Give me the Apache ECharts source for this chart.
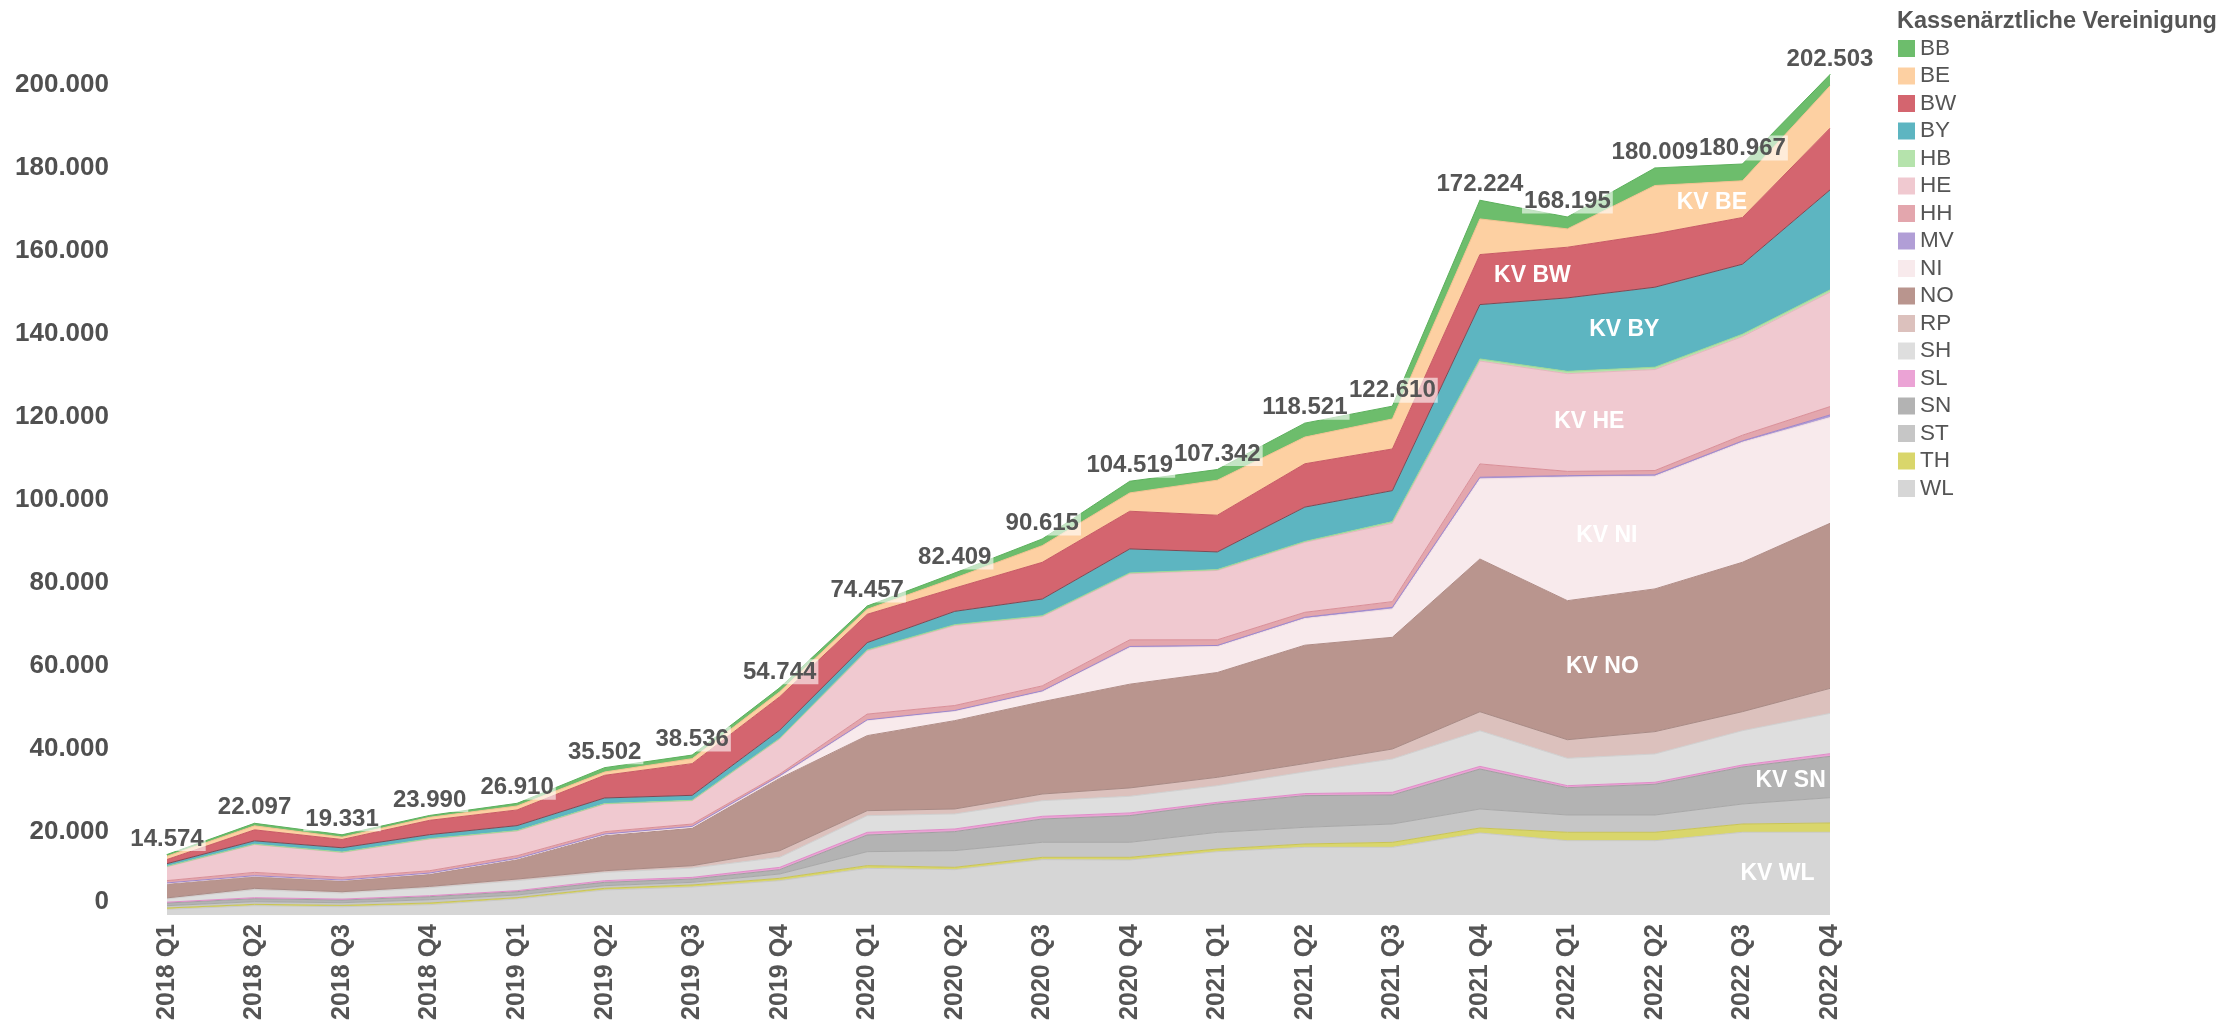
<!DOCTYPE html>
<html><head><meta charset="utf-8">
<script src="https://cdn.jsdelivr.net/npm/echarts@6/dist/echarts.min.js"></script>
<style>html,body{margin:0;padding:0;background:#fff}#c{width:2218px;height:1028px}</style>
</head><body><div id="c"></div>
<script>
const quarters = ['2018 Q1','2018 Q2','2018 Q3','2018 Q4','2019 Q1','2019 Q2','2019 Q3','2019 Q4',
  '2020 Q1','2020 Q2','2020 Q3','2020 Q4','2021 Q1','2021 Q2','2021 Q3','2021 Q4',
  '2022 Q1','2022 Q2','2022 Q3','2022 Q4'];

const WL = [1370, 2250, 2000, 2490, 3860, 6030, 6750, 8280, 11250, 10930, 13340, 13260, 15260, 16310, 16310, 19760, 17910, 17910, 19930, 19930];
const TH = [320, 320, 320, 400, 320, 400, 480, 560, 640, 560, 560, 640, 640, 800, 1200, 1200, 2020, 2020, 2000, 2240];
const ST = [560, 640, 640, 800, 640, 640, 640, 1040, 3370, 4020, 3620, 3620, 4020, 4020, 4420, 4580, 4170, 4170, 4820, 6100];
const SN = [640, 720, 640, 720, 800, 800, 800, 1040, 4020, 4580, 5620, 6430, 6830, 7630, 6990, 9640, 6580, 7400, 8920, 9950];
const SL = [200, 240, 240, 240, 240, 400, 400, 560, 640, 640, 640, 640, 400, 500, 640, 640, 480, 480, 480, 650];
const SH = [800, 1930, 1450, 1930, 2410, 2000, 2250, 2410, 4020, 3620, 3770, 4020, 4020, 5220, 8030, 8580, 6600, 6830, 8270, 9710];
const RP = [240, 320, 320, 320, 400, 400, 560, 1600, 1200, 1200, 1600, 2010, 2010, 2010, 2410, 4580, 4480, 5380, 4580, 6030];
const NO = [3300, 2810, 2570, 2890, 4660, 8440, 9000, 17430, 18080, 21280, 22250, 25000, 25250, 28520, 26910, 36800, 33500, 34390, 36000, 39770];
const NI = [200, 150, 150, 200, 200, 250, 300, 400, 3620, 2250, 2410, 8840, 6270, 6430, 6830, 19300, 29800, 27160, 28920, 25470];
const MV = [100, 90, 90, 120, 120, 150, 180, 240, 200, 200, 200, 250, 250, 300, 400, 400, 320, 320, 320, 640];
const HH = [560, 800, 640, 560, 640, 560, 560, 400, 1370, 1200, 1200, 1600, 1370, 1200, 1370, 3210, 1040, 1040, 1370, 2020];
const HE = [3340, 6700, 6000, 7630, 5950, 6670, 5620, 8440, 15250, 19280, 16710, 15920, 16710, 16870, 18880, 24800, 23540, 24340, 23780, 27550];
const HB = [100, 100, 100, 100, 100, 100, 100, 150, 200, 200, 200, 200, 200, 200, 400, 500, 560, 560, 560, 560];
const BY = [640, 800, 1040, 960, 1200, 1360, 1200, 2000, 1770, 3210, 4020, 5780, 4260, 8280, 7470, 13100, 17700, 19280, 16870, 24100];
const BW = [1000, 2650, 2000, 3450, 3770, 5460, 7630, 8030, 6830, 5620, 8840, 9080, 8840, 10440, 10040, 12050, 12210, 12850, 11250, 14870];
const BE = [800, 960, 560, 720, 960, 800, 1200, 1200, 1200, 2410, 4020, 4420, 8440, 6430, 7230, 8590, 4420, 11650, 8840, 10190];
const BB = [404, 617, 571, 460, 640, 1042, 866, 964, 797, 1209, 1615, 2809, 2572, 3361, 3080, 4494, 2865, 4229, 4057, 2723];

const yTickMax = 200000;
const yTickStep = 20000;

const stackOrder = ['WL','TH','ST','SN','SL','SH','RP','NO','NI','MV','HH','HE','HB','BY','BW','BE','BB'];
const seriesValues = {WL,TH,ST,SN,SL,SH,RP,NO,NI,MV,HH,HE,HB,BY,BW,BE,BB};

const fillColors = {
  BB:'#6dbd6c', BE:'#fdd0a2', BW:'#d4656f', BY:'#5db5c1', HB:'#b5e3ac', HE:'#f0c9d0',
  HH:'#e3a6ad', MV:'#b19ed6', NI:'#f8eaec', NO:'#b9958e', RP:'#dcc1bd', SH:'#dedede',
  SL:'#eba3d5', SN:'#b3b3b3', ST:'#c6c6c6', TH:'#d9d66b', WL:'#d6d6d6'
};
const lineColors = {
  BB:'#5cb05c', BE:'#f5c290', BW:'#c85a65', BY:'#7a4a55', HB:'#9fd996', HE:'#e6b5be',
  HH:'#d98f98', MV:'#9d86cc', NI:'#f3e0e3', NO:'#b08c86', RP:'#a88a85', SH:'#d0d0d0',
  SL:'#e08cc8', SN:'#a0a0a0', ST:'#a8a8a8', TH:'#c9c455', WL:'#c8c8c8'
};

const FONT = 'Liberation Sans, Arial, sans-serif';
const fmt = n => String(n).replace(/\B(?=(\d{3})+(?!\d))/g, '.');
const totals = quarters.map((q, i) => stackOrder.reduce((s, k) => s + seriesValues[k][i], 0));

const series = stackOrder.map(k => {
  const s = {
    name: k, type: 'line', stack: 'total', data: seriesValues[k],
    symbol: 'circle', symbolSize: 1, showSymbol: k === 'BB',
    lineStyle: { width: 1, color: lineColors[k] },
    itemStyle: { color: fillColors[k] },
    areaStyle: { color: fillColors[k], opacity: 1 },
    emphasis: { disabled: true },
    z: 2
  };
  if (k === 'BB') {
    s.label = {
      show: true, position: 'top', distance: 3,
      formatter: p => fmt(totals[p.dataIndex]),
      fontFamily: FONT, fontWeight: 'bold', fontSize: 24,
      color: '#555',
      backgroundColor: 'rgba(255,255,255,0.6)', padding: [1, 2, 0, 2]
    };
  }
  return s;
});

const option = {
  animation: false,
  backgroundColor: '#fff',
  title: {
    text: 'Kassenärztliche Vereinigung', left: 1892, top: 5,
    textStyle: { fontFamily: FONT, fontWeight: 'bold', fontSize: 23.5, color: '#555' }
  },
  legend: {
    orient: 'vertical', left: 1893, top: 32, icon: 'rect',
    itemWidth: 17, itemHeight: 17, itemGap: 4.5,
    data: [...stackOrder].reverse(),
    textStyle: { fontFamily: FONT, fontSize: 22.5, color: '#555' },
    itemStyle: { borderWidth: 0 },
    selectedMode: false
  },
  grid: { left: 167, right: 388, top: 43.5, bottom: 113, containLabel: false },
  xAxis: {
    type: 'category', data: quarters, boundaryGap: false,
    axisLine: { show: false }, axisTick: { show: false }, splitLine: { show: false },
    axisLabel: {
      rotate: 90, margin: 9, interval: 0,
      fontFamily: FONT, fontWeight: 'bold', fontSize: 25, color: '#555'
    }
  },
  yAxis: {
    type: 'value', min: 0, max: 210000, interval: yTickStep,
    axisLine: { show: false }, axisTick: { show: false }, splitLine: { show: false },
    axisLabel: {
      margin: 58,
      fontFamily: FONT, fontWeight: 'bold', fontSize: 26, color: '#505050',
      formatter: v => (v % yTickStep !== 0 || v > yTickMax) ? '' : (v === 0 ? '{z|0}' : fmt(v)),
      rich: { z: { padding: [0, 0, 26, 0], fontFamily: FONT, fontWeight: 'bold', fontSize: 26, color: '#505050' } }
    }
  },
  series
};

const chart = echarts.init(document.getElementById('c'), null, { renderer: 'canvas' });
chart.setOption(option);

// in-area labels, placed at the middle of each band at a given category position
const bandLabels = [
  { name: 'BE', at: 17.65 }, { name: 'BW', at: 15.6 }, { name: 'BY', at: 16.65 },
  { name: 'HE', at: 16.25 }, { name: 'NI', at: 16.45 }, { name: 'NO', at: 16.4 },
  { name: 'SN', at: 18.55 }, { name: 'WL', at: 18.4 }
];
function cumBelow(k, i) {
  let s = 0;
  for (const key of stackOrder) { if (key === k) break; s += seriesValues[key][i]; }
  return s;
}
const graphics = bandLabels.map(b => {
  const i0 = Math.floor(b.at), i1 = Math.min(i0 + 1, quarters.length - 1), t = b.at - i0;
  const mid = i => cumBelow(b.name, i) + seriesValues[b.name][i] / 2;
  const v = mid(i0) + (mid(i1) - mid(i0)) * t;
  const p0 = chart.convertToPixel({ xAxisIndex: 0, yAxisIndex: 0 }, [i0, v]);
  const p1 = chart.convertToPixel({ xAxisIndex: 0, yAxisIndex: 0 }, [i1, v]);
  return {
    type: 'text', z: 50,
    x: p0[0] + (p1[0] - p0[0]) * t, y: p0[1],
    style: {
      text: 'KV ' + b.name, fill: '#ffffff', align: 'center', verticalAlign: 'middle',
      font: 'bold 23px "Liberation Sans", Arial, sans-serif'
    }
  };
});
chart.setOption({ graphic: graphics });
</script></body></html>
